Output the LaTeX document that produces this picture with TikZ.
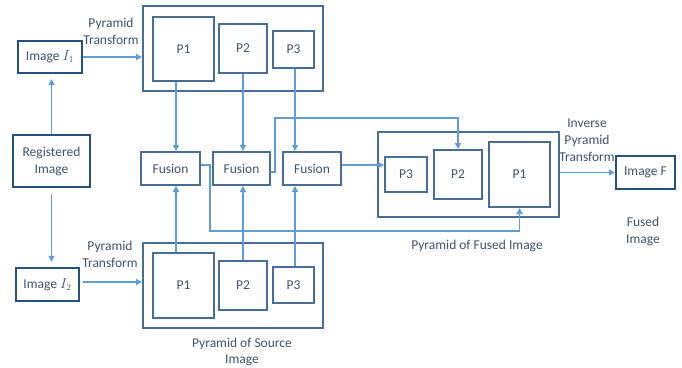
\documentclass[tikz,border=0pt]{standalone}
\usepackage{fontspec}
\setmainfont{Carlito}
\usetikzlibrary{arrows.meta,calc}
\definecolor{lineblue}{RGB}{98,156,212}
\definecolor{boxblue}{RGB}{72,110,150}
\definecolor{darkbox}{RGB}{40,80,125}
\definecolor{txt}{RGB}{64,84,110}
\begin{document}
\begin{tikzpicture}[x=1pt,y=-1pt,
  every node/.style={font=\fontsize{13.5}{17}\selectfont, text=txt},
  pbox/.style={draw=boxblue, line width=2pt, inner sep=0pt, fill=white},
  ibox/.style={draw=darkbox, line width=2.3pt, inner sep=0pt, fill=white},
  obox/.style={draw=boxblue, line width=2pt, inner sep=0pt},
  conn/.style={draw=lineblue, line width=1.8pt},
  arr/.style={conn, -{Triangle[length=6pt,width=6pt]}},
  lbl/.style={align=center}]
\useasboundingbox (0,0) rectangle (682,367);
\fill[white] (0,0) rectangle (682,367);

% outer pyramid boxes
\node[obox, minimum width=180, minimum height=85] (Top) at (233,48.5) {};
\node[obox, minimum width=180, minimum height=85] (Bot) at (233,285.5) {};
\node[obox, minimum width=181, minimum height=85] (Fus) at (468.5,174.5) {};

% image boxes
\node[ibox, minimum width=64, minimum height=32] (I1) at (50,57) {Image $I_1$};
\node[ibox, minimum width=77, minimum height=52, align=center] (Reg) at (51.5,161) {Registered\\Image};
\node[ibox, minimum width=63, minimum height=33] (I2) at (47.5,284.5) {Image $I_2$};
\node[ibox, minimum width=59, minimum height=33] (ImF) at (645.5,172.5) {Image F};

% top pyramid levels
\node[pbox, minimum width=61, minimum height=64] (P1t) at (183.5,49) {P1};
\node[pbox, minimum width=48, minimum height=49] (P2t) at (243,48.5) {P2};
\node[pbox, minimum width=41, minimum height=37] (P3t) at (293.5,49.5) {P3};

% bottom pyramid levels
\node[pbox, minimum width=61, minimum height=65] (P1b) at (183.5,285.5) {P1};
\node[pbox, minimum width=48, minimum height=49] (P2b) at (243,285.5) {P2};
\node[pbox, minimum width=41, minimum height=36] (P3b) at (293.5,285) {P3};

% fused pyramid levels
\node[pbox, minimum width=42, minimum height=35] (P3f) at (406,174.5) {P3};
\node[pbox, minimum width=48, minimum height=49] (P2f) at (458,174.5) {P2};
\node[pbox, minimum width=61, minimum height=65] (P1f) at (519.5,174.5) {P1};

% fusion boxes
\node[pbox, minimum width=59, minimum height=33] (F1) at (170.5,168.5) {Fusion};
\node[pbox, minimum width=57, minimum height=33] (F2) at (241.5,168.5) {Fusion};
\node[pbox, minimum width=58, minimum height=33] (F3) at (312,168.5) {Fusion};

% labels
\node[lbl] (LT1) at (111,31.5) {Pyramid\\Transform};
\node[lbl] (LT2) at (110,254.5) {Pyramid\\Transform};
\node[lbl] (LInv) at (587,140) {Inverse\\Pyramid\\Transform};
\node[lbl] (LFI) at (643,231.5) {Fused\\Image};
\node[lbl] (LPF) at (477,246) {Pyramid of Fused Image};
\node[lbl, font=\fontsize{13.5}{16}\selectfont] (LPS) at (242,351.5) {Pyramid of Source\\Image};

% registered -> images
\draw[arr, shorten >=5pt] (Reg.north) -- (Reg.north |- I1.south);
\draw[arr, shorten <=6pt, shorten >=5pt] (Reg.south) -- (Reg.south |- I2.north);

% pyramid transforms
\draw[arr] (I1.east) -- (I1.east -| Top.west);
\draw[arr, shorten <=3pt] ([yshift=2.5]I2.east) -- ([yshift=2.5]I2.east -| Bot.west);

% pyramids -> fusion
\draw[arr] ([xshift=5.5]F1.north |- P1t.south) -- ([xshift=5.5]F1.north);
\draw[arr] (P2t.south) -- (P2t.south |- F2.north);
\draw[arr] ([xshift=1.5]P3t.south) -- ([xshift=1.5]P3t.south |- F3.north);
\draw[arr] ([xshift=5.5]F1.north |- P1b.north) -- ([xshift=5.5]F1.south);
\draw[arr] (P2b.north) -- (P2b.north |- F2.south);
\draw[arr] ([xshift=1.5]P3b.north) -- ([xshift=1.5]P3b.north |- F3.south);

% fusion -> fused pyramid
\draw[arr] ([yshift=3.5]F1.east) -- ++(9,0) |- ($(P1f.south)+(0,23)$) -- (P1f.south);
\draw[arr] ([yshift=-3.5]F2.east) -- ++(4,0) |- ($(P2f.north)+(0,-31)$) -- (P2f.north);
\draw[arr] ([yshift=3.5]F3.east) -- ([yshift=3.5]F3.east -| P3f.west);

% inverse transform
\draw[arr] (ImF.west -| Fus.east) -- (ImF.west);
\end{tikzpicture}
\end{document}
